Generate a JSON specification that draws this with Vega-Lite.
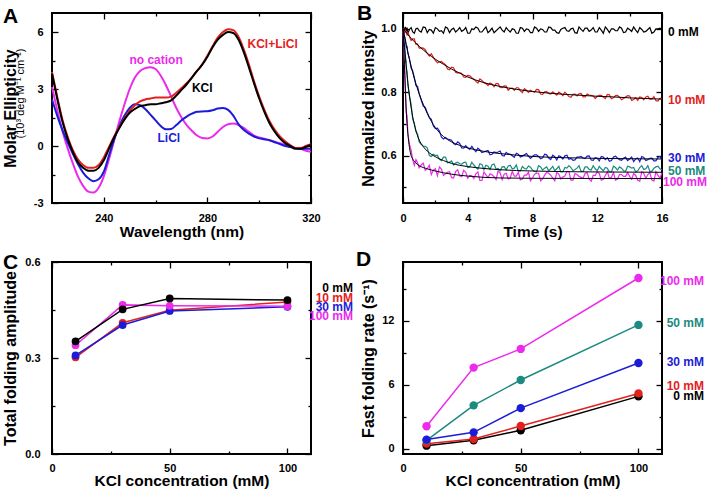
{
"$schema": "https://vega.github.io/schema/vega-lite/v6.json",
"padding": {"left": 0, "top": 2, "right": 0, "bottom": 0},
"background": "white",
"columns": 2,
"spacing": {"row": 59, "column": 92},
"bounds": "flush",
"resolve": {"scale": {"color": "independent"}},
"config": {
  "font": "Liberation Sans",
  "view": {"stroke": "black", "strokeWidth": 2},
  "axis": {"domain": false, "grid": false, "tickColor": "black", "tickWidth": 1.3, "tickSize": 6, "labelFont": "Liberation Sans", "labelFontSize": 11, "labelFontWeight": "bold", "labelColor": "black", "labelFlush": false, "labelOverlap": false, "labelPadding": 9, "titleFont": "Liberation Sans", "titleFontSize": 16, "titleFontWeight": "bold", "titleColor": "black"},
  "axisX": {"titleFontSize": 15.5, "titleY": 21, "titleBaseline": "top"},
  "axisY": {"titleBaseline": "alphabetic"},
  "title": {"font": "Liberation Sans", "fontSize": 21, "fontWeight": "bold", "anchor": "start", "frame": "group", "offset": 0, "baseline": "alphabetic", "color": "black"},
  "text": {"font": "Liberation Sans", "fontWeight": "bold", "fontSize": 12}
},
"datasets": {
  "cd": [
    {"w":220,"m":3.1,"b":2.45,"r":3.9,"k":3.8},
    {"w":222,"m":1.9,"b":1.6,"r":2.6,"k":2.5},
    {"w":224,"m":0.8,"b":0.85,"r":1.4,"k":1.3},
    {"w":226,"m":-0.1,"b":0.2,"r":0.5,"k":0.4},
    {"w":228,"m":-0.9,"b":-0.4,"r":-0.2,"k":-0.3},
    {"w":230,"m":-1.6,"b":-0.95,"r":-0.7,"k":-0.85},
    {"w":232,"m":-2.1,"b":-1.4,"r":-1.0,"k":-1.15},
    {"w":234,"m":-2.4,"b":-1.7,"r":-1.15,"k":-1.3},
    {"w":236,"m":-2.45,"b":-1.85,"r":-1.15,"k":-1.3},
    {"w":238,"m":-2.2,"b":-1.75,"r":-1.0,"k":-1.15},
    {"w":240,"m":-1.6,"b":-1.35,"r":-0.6,"k":-0.75},
    {"w":242,"m":-0.7,"b":-0.5,"r":-0.05,"k":-0.15},
    {"w":244,"m":0.3,"b":0.35,"r":0.5,"k":0.45},
    {"w":246,"m":1.3,"b":1.05,"r":1.0,"k":0.95},
    {"w":248,"m":2.2,"b":1.6,"r":1.45,"k":1.4},
    {"w":250,"m":3.0,"b":2.0,"r":1.85,"k":1.75},
    {"w":252,"m":3.6,"b":2.2,"r":2.15,"k":1.95},
    {"w":254,"m":3.95,"b":2.15,"r":2.35,"k":2.1},
    {"w":256,"m":4.1,"b":1.95,"r":2.45,"k":2.15},
    {"w":258,"m":4.15,"b":1.65,"r":2.5,"k":2.2},
    {"w":260,"m":4.05,"b":1.35,"r":2.55,"k":2.2},
    {"w":262,"m":3.7,"b":1.05,"r":2.55,"k":2.25},
    {"w":264,"m":3.2,"b":0.88,"r":2.55,"k":2.3},
    {"w":266,"m":2.6,"b":0.9,"r":2.6,"k":2.4},
    {"w":268,"m":2.0,"b":1.1,"r":2.8,"k":2.65},
    {"w":270,"m":1.5,"b":1.35,"r":3.05,"k":2.95},
    {"w":272,"m":1.1,"b":1.55,"r":3.3,"k":3.25},
    {"w":274,"m":0.8,"b":1.7,"r":3.6,"k":3.6},
    {"w":276,"m":0.55,"b":1.8,"r":3.95,"k":3.95},
    {"w":278,"m":0.42,"b":1.82,"r":4.3,"k":4.28},
    {"w":280,"m":0.4,"b":1.83,"r":4.75,"k":4.7},
    {"w":282,"m":0.5,"b":1.88,"r":5.25,"k":5.2},
    {"w":284,"m":0.75,"b":1.97,"r":5.7,"k":5.6},
    {"w":286,"m":1.0,"b":2.0,"r":6.0,"k":5.85},
    {"w":288,"m":1.15,"b":1.9,"r":6.15,"k":6.0},
    {"w":290,"m":1.18,"b":1.6,"r":6.1,"k":5.95},
    {"w":292,"m":1.1,"b":1.15,"r":5.75,"k":5.6},
    {"w":294,"m":0.95,"b":0.85,"r":5.1,"k":4.95},
    {"w":296,"m":0.75,"b":0.65,"r":4.3,"k":4.15},
    {"w":298,"m":0.55,"b":0.5,"r":3.4,"k":3.3},
    {"w":300,"m":0.45,"b":0.4,"r":2.6,"k":2.5},
    {"w":302,"m":0.38,"b":0.35,"r":1.9,"k":1.8},
    {"w":304,"m":0.3,"b":0.3,"r":1.3,"k":1.2},
    {"w":306,"m":0.22,"b":0.2,"r":0.85,"k":0.75},
    {"w":308,"m":0.15,"b":0.1,"r":0.5,"k":0.4},
    {"w":310,"m":0.05,"b":0.0,"r":0.25,"k":0.15},
    {"w":312,"m":-0.05,"b":-0.05,"r":0.05,"k":0.0},
    {"w":314,"m":-0.1,"b":-0.1,"r":-0.1,"k":-0.15},
    {"w":316,"m":-0.15,"b":-0.15,"r":-0.1,"k":-0.15},
    {"w":318,"m":-0.25,"b":-0.15,"r":0.0,"k":-0.05},
    {"w":320,"m":-0.3,"b":-0.15,"r":0.1,"k":0.05}
  ],
  "cdlab": [
    {"w":260.2,"v":4.54,"s":"m","txt":"no cation"},
    {"w":278,"v":3.06,"s":"k","txt":"KCl"},
    {"w":265.1,"v":0.44,"s":"b","txt":"LiCl"},
    {"w":305.2,"v":5.36,"s":"r","txt":"KCl+LiCl"}
  ],
  "kin": [
    {"t":0,"z":1.0,"r":1.0,"b":1.0,"g":1.0,"m":1.0},
    {"t":0.05,"z":1.002,"r":0.994,"b":0.983,"g":0.96,"m":0.925},
    {"t":0.1,"z":0.988,"r":0.987,"b":0.975,"g":0.942,"m":0.876},
    {"t":0.15,"z":1.006,"r":0.995,"b":0.965,"g":0.916,"m":0.809},
    {"t":0.2,"z":0.992,"r":0.99,"b":0.942,"g":0.878,"m":0.737},
    {"t":0.25,"z":1.004,"r":0.981,"b":0.944,"g":0.863,"m":0.725},
    {"t":0.3,"z":0.986,"r":0.988,"b":0.923,"g":0.824,"m":0.668},
    {"t":0.4,"z":0.998,"r":0.976,"b":0.905,"g":0.788,"m":0.635},
    {"t":0.5,"z":1.004,"r":0.963,"b":0.876,"g":0.762,"m":0.617},
    {"t":0.6,"z":0.99,"r":0.968,"b":0.867,"g":0.714,"m":0.586},
    {"t":0.7,"z":0.986,"r":0.968,"b":0.846,"g":0.702,"m":0.569},
    {"t":0.8,"z":1.0,"r":0.951,"b":0.821,"g":0.676,"m":0.587},
    {"t":0.9,"z":1.002,"r":0.952,"b":0.818,"g":0.668,"m":0.577},
    {"t":1.0,"z":0.994,"r":0.939,"b":0.795,"g":0.643,"m":0.561},
    {"t":1.25,"z":1.006,"r":0.939,"b":0.756,"g":0.63,"m":0.576},
    {"t":1.5,"z":0.988,"r":0.922,"b":0.735,"g":0.624,"m":0.559},
    {"t":1.75,"z":0.996,"r":0.921,"b":0.714,"g":0.597,"m":0.54},
    {"t":2.0,"z":1.004,"r":0.9,"b":0.685,"g":0.6,"m":0.558},
    {"t":2.25,"z":0.992,"r":0.896,"b":0.677,"g":0.588,"m":0.564},
    {"t":2.5,"z":0.986,"r":0.891,"b":0.652,"g":0.595,"m":0.537},
    {"t":2.75,"z":1.002,"r":0.873,"b":0.652,"g":0.577,"m":0.547},
    {"t":3.0,"z":0.998,"r":0.879,"b":0.648,"g":0.583,"m":0.53},
    {"t":3.25,"z":0.99,"r":0.863,"b":0.634,"g":0.576,"m":0.549},
    {"t":3.5,"z":1.004,"r":0.862,"b":0.638,"g":0.574,"m":0.536},
    {"t":3.75,"z":0.996,"r":0.848,"b":0.623,"g":0.578,"m":0.553},
    {"t":4.0,"z":0.986,"r":0.853,"b":0.624,"g":0.562,"m":0.528},
    {"t":4.25,"z":1.0,"r":0.846,"b":0.629,"g":0.579,"m":0.536},
    {"t":4.5,"z":1.006,"r":0.834,"b":0.612,"g":0.563,"m":0.542},
    {"t":4.75,"z":0.99,"r":0.842,"b":0.618,"g":0.574,"m":0.521},
    {"t":5.0,"z":0.998,"r":0.83,"b":0.611,"g":0.555,"m":0.548},
    {"t":5.25,"z":0.988,"r":0.821,"b":0.616,"g":0.566,"m":0.53},
    {"t":5.5,"z":1.002,"r":0.826,"b":0.604,"g":0.571,"m":0.539},
    {"t":5.75,"z":0.994,"r":0.827,"b":0.609,"g":0.557,"m":0.524},
    {"t":6.0,"z":1.006,"r":0.815,"b":0.614,"g":0.552,"m":0.545},
    {"t":6.25,"z":0.99,"r":0.82,"b":0.598,"g":0.565,"m":0.541},
    {"t":6.5,"z":0.996,"r":0.806,"b":0.605,"g":0.567,"m":0.526},
    {"t":6.75,"z":1.0,"r":0.813,"b":0.599,"g":0.558,"m":0.55},
    {"t":7.0,"z":0.986,"r":0.814,"b":0.607,"g":0.57,"m":0.535},
    {"t":7.25,"z":1.004,"r":0.804,"b":0.595,"g":0.551,"m":0.523},
    {"t":7.5,"z":0.992,"r":0.811,"b":0.602,"g":0.559,"m":0.538},
    {"t":7.75,"z":0.998,"r":0.799,"b":0.598,"g":0.567,"m":0.547},
    {"t":8.0,"z":0.988,"r":0.802,"b":0.597,"g":0.554,"m":0.529},
    {"t":8.25,"z":1.002,"r":0.809,"b":0.602,"g":0.548,"m":0.544},
    {"t":8.5,"z":1.0,"r":0.794,"b":0.59,"g":0.564,"m":0.52},
    {"t":8.75,"z":0.99,"r":0.801,"b":0.604,"g":0.56,"m":0.538},
    {"t":9.0,"z":1.006,"r":0.796,"b":0.592,"g":0.552,"m":0.544},
    {"t":9.25,"z":0.996,"r":0.801,"b":0.601,"g":0.566,"m":0.529},
    {"t":9.5,"z":0.988,"r":0.791,"b":0.586,"g":0.558,"m":0.547},
    {"t":9.75,"z":0.998,"r":0.796,"b":0.596,"g":0.548,"m":0.526},
    {"t":10.0,"z":1.004,"r":0.8,"b":0.599,"g":0.562,"m":0.535},
    {"t":10.25,"z":0.992,"r":0.786,"b":0.588,"g":0.568,"m":0.549},
    {"t":10.5,"z":1.002,"r":0.793,"b":0.585,"g":0.552,"m":0.522},
    {"t":10.75,"z":0.986,"r":0.788,"b":0.595,"g":0.56,"m":0.54},
    {"t":11.0,"z":0.998,"r":0.796,"b":0.597,"g":0.55,"m":0.531},
    {"t":11.25,"z":1.002,"r":0.785,"b":0.59,"g":0.564,"m":0.543},
    {"t":11.5,"z":0.992,"r":0.791,"b":0.599,"g":0.556,"m":0.525},
    {"t":11.75,"z":1.004,"r":0.788,"b":0.585,"g":0.568,"m":0.537},
    {"t":12.0,"z":0.99,"r":0.787,"b":0.591,"g":0.552,"m":0.549},
    {"t":12.25,"z":0.996,"r":0.79,"b":0.597,"g":0.558,"m":0.522},
    {"t":12.5,"z":1.006,"r":0.78,"b":0.587,"g":0.562,"m":0.537},
    {"t":12.75,"z":0.988,"r":0.792,"b":0.582,"g":0.548,"m":0.528},
    {"t":13.0,"z":1.0,"r":0.782,"b":0.595,"g":0.566,"m":0.546},
    {"t":13.25,"z":0.994,"r":0.79,"b":0.592,"g":0.554,"m":0.525},
    {"t":13.5,"z":1.002,"r":0.776,"b":0.585,"g":0.56,"m":0.54},
    {"t":13.75,"z":0.99,"r":0.785,"b":0.595,"g":0.55,"m":0.534},
    {"t":14.0,"z":0.998,"r":0.788,"b":0.589,"g":0.564,"m":0.534},
    {"t":14.25,"z":1.006,"r":0.777,"b":0.581,"g":0.562,"m":0.543},
    {"t":14.5,"z":0.988,"r":0.774,"b":0.592,"g":0.552,"m":0.522},
    {"t":14.75,"z":0.998,"r":0.783,"b":0.597,"g":0.568,"m":0.549},
    {"t":15.0,"z":0.992,"r":0.785,"b":0.584,"g":0.558,"m":0.528},
    {"t":15.25,"z":1.004,"r":0.778,"b":0.591,"g":0.55,"m":0.546},
    {"t":15.5,"z":0.99,"r":0.786,"b":0.583,"g":0.56,"m":0.519},
    {"t":15.75,"z":1.0,"r":0.772,"b":0.594,"g":0.566,"m":0.537},
    {"t":16.0,"z":0.996,"r":0.778,"b":0.587,"g":0.554,"m":0.546},
    {"t":1.125,"z":0.99,"r":0.94,"b":0.775,"g":0.635,"m":0.57},
    {"t":1.375,"z":1.004,"r":0.934,"b":0.752,"g":0.629,"m":0.553},
    {"t":1.625,"z":0.998,"r":0.914,"b":0.72,"g":0.6,"m":0.569},
    {"t":1.875,"z":0.986,"r":0.91,"b":0.693,"g":0.604,"m":0.554},
    {"t":2.125,"z":1.0,"r":0.893,"b":0.686,"g":0.601,"m":0.536},
    {"t":2.375,"z":0.994,"r":0.897,"b":0.658,"g":0.584,"m":0.557},
    {"t":2.625,"z":1.006,"r":0.887,"b":0.657,"g":0.595,"m":0.542},
    {"t":2.875,"z":0.988,"r":0.871,"b":0.65,"g":0.579,"m":0.549},
    {"t":3.125,"z":1.002,"r":0.877,"b":0.638,"g":0.57,"m":0.529},
    {"t":3.375,"z":0.996,"r":0.86,"b":0.643,"g":0.579,"m":0.555},
    {"t":3.625,"z":0.992,"r":0.859,"b":0.624,"g":0.573,"m":0.533},
    {"t":3.875,"z":1.004,"r":0.847,"b":0.631,"g":0.579,"m":0.547},
    {"t":4.125,"z":0.986,"r":0.852,"b":0.619,"g":0.564,"m":0.537},
    {"t":4.375,"z":0.998,"r":0.841,"b":0.62,"g":0.57,"m":0.527},
    {"t":4.625,"z":1.002,"r":0.829,"b":0.623,"g":0.557,"m":0.548},
    {"t":4.875,"z":0.99,"r":0.837,"b":0.609,"g":0.572,"m":0.521},
    {"t":5.125,"z":1.006,"r":0.827,"b":0.614,"g":0.569,"m":0.539},
    {"t":5.375,"z":0.994,"r":0.829,"b":0.602,"g":0.556,"m":0.542},
    {"t":5.625,"z":0.988,"r":0.817,"b":0.611,"g":0.573,"m":0.533},
    {"t":5.875,"z":1.0,"r":0.827,"b":0.611,"g":0.559,"m":0.551},
    {"t":6.125,"z":0.996,"r":0.814,"b":0.6,"g":0.564,"m":0.524},
    {"t":6.375,"z":1.004,"r":0.819,"b":0.61,"g":0.555,"m":0.544},
    {"t":6.625,"z":0.99,"r":0.812,"b":0.604,"g":0.569,"m":0.529},
    {"t":6.875,"z":0.998,"r":0.806,"b":0.594,"g":0.56,"m":0.535},
    {"t":7.125,"z":0.986,"r":0.814,"b":0.604,"g":0.55,"m":0.547},
    {"t":7.375,"z":1.002,"r":0.799,"b":0.598,"g":0.565,"m":0.526},
    {"t":7.625,"z":1.0,"r":0.806,"b":0.606,"g":0.557,"m":0.538},
    {"t":7.875,"z":0.988,"r":0.806,"b":0.591,"g":0.563,"m":0.52},
    {"t":8.125,"z":1.006,"r":0.8,"b":0.602,"g":0.55,"m":0.541},
    {"t":8.375,"z":0.992,"r":0.808,"b":0.597,"g":0.568,"m":0.544},
    {"t":8.625,"z":0.998,"r":0.793,"b":0.593,"g":0.554,"m":0.526},
    {"t":8.875,"z":0.99,"r":0.802,"b":0.602,"g":0.564,"m":0.547},
    {"t":9.125,"z":1.004,"r":0.794,"b":0.587,"g":0.558,"m":0.538},
    {"t":9.375,"z":0.996,"r":0.796,"b":0.596,"g":0.552,"m":0.52},
    {"t":9.625,"z":0.986,"r":0.8,"b":0.599,"g":0.566,"m":0.541},
    {"t":9.875,"z":1.002,"r":0.789,"b":0.589,"g":0.548,"m":0.532},
    {"t":10.125,"z":0.994,"r":0.794,"b":0.601,"g":0.56,"m":0.55},
    {"t":10.375,"z":1.0,"r":0.784,"b":0.591,"g":0.562,"m":0.522},
    {"t":10.625,"z":0.988,"r":0.794,"b":0.586,"g":0.556,"m":0.543},
    {"t":10.875,"z":1.006,"r":0.795,"b":0.595,"g":0.568,"m":0.534},
    {"t":11.125,"z":0.992,"r":0.785,"b":0.592,"g":0.55,"m":0.528},
    {"t":11.375,"z":1.002,"r":0.794,"b":0.598,"g":0.564,"m":0.546},
    {"t":11.625,"z":0.996,"r":0.79,"b":0.586,"g":0.554,"m":0.519},
    {"t":11.875,"z":0.99,"r":0.78,"b":0.593,"g":0.558,"m":0.537},
    {"t":12.125,"z":1.004,"r":0.79,"b":0.583,"g":0.566,"m":0.543},
    {"t":12.375,"z":0.986,"r":0.785,"b":0.595,"g":0.552,"m":0.525},
    {"t":12.625,"z":0.998,"r":0.793,"b":0.593,"g":0.56,"m":0.549},
    {"t":12.875,"z":1.0,"r":0.779,"b":0.584,"g":0.548,"m":0.531},
    {"t":13.125,"z":0.994,"r":0.789,"b":0.598,"g":0.562,"m":0.522},
    {"t":13.375,"z":1.006,"r":0.784,"b":0.587,"g":0.564,"m":0.54},
    {"t":13.625,"z":0.988,"r":0.78,"b":0.591,"g":0.552,"m":0.534},
    {"t":13.875,"z":1.002,"r":0.789,"b":0.584,"g":0.566,"m":0.546},
    {"t":14.125,"z":0.992,"r":0.774,"b":0.595,"g":0.56,"m":0.525},
    {"t":14.375,"z":0.996,"r":0.783,"b":0.589,"g":0.548,"m":0.537},
    {"t":14.625,"z":1.004,"r":0.785,"b":0.581,"g":0.562,"m":0.519},
    {"t":14.875,"z":0.99,"r":0.776,"b":0.594,"g":0.556,"m":0.543},
    {"t":15.125,"z":0.998,"r":0.787,"b":0.587,"g":0.568,"m":0.54},
    {"t":15.375,"z":0.986,"r":0.778,"b":0.592,"g":0.55,"m":0.522},
    {"t":15.625,"z":1.0,"r":0.773,"b":0.583,"g":0.564,"m":0.549},
    {"t":15.875,"z":1.002,"r":0.781,"b":0.597,"g":0.558,"m":0.528}
  ],
  "fit": [
    {"t":0,"v":1.0,"s":"r"},{"t":0.25,"v":0.985,"s":"r"},{"t":0.5,"v":0.97,"s":"r"},{"t":1,"v":0.945,"s":"r"},{"t":1.5,"v":0.923,"s":"r"},{"t":2,"v":0.904,"s":"r"},{"t":2.5,"v":0.888,"s":"r"},{"t":3,"v":0.873,"s":"r"},{"t":3.5,"v":0.86,"s":"r"},{"t":4,"v":0.848,"s":"r"},{"t":5,"v":0.83,"s":"r"},{"t":6,"v":0.818,"s":"r"},{"t":7,"v":0.809,"s":"r"},{"t":8,"v":0.802,"s":"r"},{"t":9,"v":0.797,"s":"r"},{"t":10,"v":0.793,"s":"r"},{"t":11,"v":0.79,"s":"r"},{"t":12,"v":0.787,"s":"r"},{"t":13,"v":0.785,"s":"r"},{"t":14,"v":0.782,"s":"r"},{"t":15,"v":0.78,"s":"r"},{"t":16,"v":0.778,"s":"r"},
    {"t":0,"v":1.0,"s":"b"},{"t":0.1,"v":0.975,"s":"b"},{"t":0.2,"v":0.95,"s":"b"},{"t":0.3,"v":0.926,"s":"b"},{"t":0.4,"v":0.903,"s":"b"},{"t":0.5,"v":0.882,"s":"b"},{"t":0.6,"v":0.862,"s":"b"},{"t":0.8,"v":0.826,"s":"b"},{"t":1.0,"v":0.795,"s":"b"},{"t":1.25,"v":0.762,"s":"b"},{"t":1.5,"v":0.733,"s":"b"},{"t":1.75,"v":0.708,"s":"b"},{"t":2,"v":0.688,"s":"b"},{"t":2.5,"v":0.66,"s":"b"},{"t":3,"v":0.643,"s":"b"},{"t":3.5,"v":0.632,"s":"b"},{"t":4,"v":0.624,"s":"b"},{"t":5,"v":0.613,"s":"b"},{"t":6,"v":0.606,"s":"b"},{"t":7,"v":0.601,"s":"b"},{"t":8,"v":0.597,"s":"b"},{"t":10,"v":0.593,"s":"b"},{"t":12,"v":0.591,"s":"b"},{"t":16,"v":0.589,"s":"b"},
    {"t":0,"v":1.0,"s":"g"},{"t":0.1,"v":0.94,"s":"g"},{"t":0.2,"v":0.882,"s":"g"},{"t":0.3,"v":0.83,"s":"g"},{"t":0.4,"v":0.788,"s":"g"},{"t":0.5,"v":0.752,"s":"g"},{"t":0.6,"v":0.722,"s":"g"},{"t":0.8,"v":0.678,"s":"g"},{"t":1.0,"v":0.649,"s":"g"},{"t":1.25,"v":0.628,"s":"g"},{"t":1.5,"v":0.614,"s":"g"},{"t":2,"v":0.596,"s":"g"},{"t":2.5,"v":0.584,"s":"g"},{"t":3,"v":0.575,"s":"g"},{"t":3.5,"v":0.569,"s":"g"},{"t":4,"v":0.565,"s":"g"},{"t":5,"v":0.559,"s":"g"},{"t":6,"v":0.555,"s":"g"},{"t":8,"v":0.551,"s":"g"},{"t":10,"v":0.549,"s":"g"},{"t":12,"v":0.548,"s":"g"},{"t":16,"v":0.547,"s":"g"},
    {"t":0,"v":1.0,"s":"m"},{"t":0.05,"v":0.94,"s":"m"},{"t":0.1,"v":0.87,"s":"m"},{"t":0.15,"v":0.8,"s":"m"},{"t":0.2,"v":0.74,"s":"m"},{"t":0.25,"v":0.7,"s":"m"},{"t":0.3,"v":0.67,"s":"m"},{"t":0.4,"v":0.625,"s":"m"},{"t":0.5,"v":0.6,"s":"m"},{"t":0.6,"v":0.589,"s":"m"},{"t":0.8,"v":0.576,"s":"m"},{"t":1.0,"v":0.568,"s":"m"},{"t":1.5,"v":0.558,"s":"m"},{"t":2,"v":0.551,"s":"m"},{"t":3,"v":0.541,"s":"m"},{"t":4,"v":0.535,"s":"m"},{"t":5,"v":0.531,"s":"m"},{"t":6,"v":0.529,"s":"m"},{"t":8,"v":0.528,"s":"m"},{"t":16,"v":0.527,"s":"m"}
  ],
  "kinlab": [
    {"v":0.989,"s":"z","txt":"0 mM"},
    {"v":0.776,"s":"r","txt":"10 mM"},
    {"v":0.591,"s":"b","txt":"30 mM"},
    {"v":0.552,"s":"g","txt":"50 mM"},
    {"v":0.517,"s":"m","txt":"100 mM"}
  ],
  "amp": [
    {"k":10,"v":0.302,"s":"10 mM"},{"k":30,"v":0.41,"s":"10 mM"},{"k":50,"v":0.449,"s":"10 mM"},{"k":100,"v":0.475,"s":"10 mM"},
    {"k":10,"v":0.308,"s":"30 mM"},{"k":30,"v":0.403,"s":"30 mM"},{"k":50,"v":0.447,"s":"30 mM"},{"k":100,"v":0.46,"s":"30 mM"},
    {"k":10,"v":0.34,"s":"100 mM"},{"k":30,"v":0.466,"s":"100 mM"},{"k":50,"v":0.463,"s":"100 mM"},{"k":100,"v":0.462,"s":"100 mM"},
    {"k":10,"v":0.352,"s":"0 mM"},{"k":30,"v":0.452,"s":"0 mM"},{"k":50,"v":0.486,"s":"0 mM"},{"k":100,"v":0.481,"s":"0 mM"}
  ],
  "amplab": [
    {"v":0.519,"s":"0 mM"},
    {"v":0.486,"s":"10 mM"},
    {"v":0.458,"s":"30 mM"},
    {"v":0.43,"s":"100 mM"}
  ],
  "rate": [
    {"k":10,"v":0.28,"s":"0 mM"},{"k":30,"v":0.78,"s":"0 mM"},{"k":50,"v":1.72,"s":"0 mM"},{"k":100,"v":4.9,"s":"0 mM"},
    {"k":10,"v":0.47,"s":"10 mM"},{"k":30,"v":0.91,"s":"10 mM"},{"k":50,"v":2.13,"s":"10 mM"},{"k":100,"v":5.18,"s":"10 mM"},
    {"k":10,"v":0.78,"s":"50 mM"},{"k":30,"v":4.06,"s":"50 mM"},{"k":50,"v":6.44,"s":"50 mM"},{"k":100,"v":11.6,"s":"50 mM"},
    {"k":10,"v":0.85,"s":"30 mM"},{"k":30,"v":1.53,"s":"30 mM"},{"k":50,"v":3.8,"s":"30 mM"},{"k":100,"v":8.03,"s":"30 mM"},
    {"k":10,"v":2.1,"s":"100 mM"},{"k":30,"v":7.6,"s":"100 mM"},{"k":50,"v":9.35,"s":"100 mM"},{"k":100,"v":16.0,"s":"100 mM"}
  ],
  "ratelab": [
    {"v":15.7,"s":"100 mM"},
    {"v":11.8,"s":"50 mM"},
    {"v":8.1,"s":"30 mM"},
    {"v":5.85,"s":"10 mM"},
    {"v":4.9,"s":"0 mM"}
  ]
},
"concat": [
  {
    "width": 259, "height": 190,
    "title": {"text": "A", "dx": -49, "dy": 19},
    "layer": [
      {
        "data": {"name": "cd"},
        "transform": [{"fold": ["m", "b", "r", "k"], "as": ["s", "v"]}],
        "mark": {"type": "line", "strokeWidth": 2, "interpolate": "monotone"},
        "encoding": {
          "x": {"field": "w", "type": "quantitative", "scale": {"domain": [220, 320], "nice": false, "zero": false},
                "axis": {"values": [240, 280, 320], "ticks": false, "tickSize": 0, "title": "Wavelength (nm)"}},
          "y": {"field": "v", "type": "quantitative", "scale": {"domain": [-3, 7], "nice": false, "zero": false},
                "axis": {"values": [-3, 0, 3, 6], "ticks": false, "tickSize": 0, "labelExpr": "'' + datum.value", "title": "Molar Ellipticity", "titleX": -37}},
          "color": {"field": "s", "type": "nominal", "scale": {"domain": ["m", "b", "r", "k"], "range": ["#ec2aec", "#1c1cd8", "#e4201c", "#000000"]}, "legend": null}
        }
      },
      {
        "data": {"name": "cdlab"},
        "mark": {"type": "text"},
        "encoding": {
          "x": {"field": "w", "type": "quantitative", "scale": {"domain": [220, 320], "nice": false, "zero": false},
                "axis": {"orient": "top", "values": [240, 280, 320], "labels": false, "title": null, "offset": -6, "tickSize": 6}},
          "y": {"field": "v", "type": "quantitative", "scale": {"domain": [-3, 7], "nice": false, "zero": false},
                "axis": {"orient": "right", "values": [-3, 0, 3, 6], "labels": false, "title": null, "offset": -6, "tickSize": 6}},
          "text": {"field": "txt"},
          "color": {"field": "s", "type": "nominal", "scale": {"domain": ["m", "b", "r", "k"], "range": ["#ec2aec", "#1c1cd8", "#e4201c", "#000000"]}, "legend": null}
        }
      },
      {
        "data": {"name": "cdlab"},
        "mark": {"type": "point", "opacity": 0},
        "encoding": {
          "x": {"field": "w", "type": "quantitative", "scale": {"domain": [220, 320], "nice": false, "zero": false},
                "axis": {"orient": "bottom", "values": [260, 300], "labels": false, "title": null, "offset": -3, "tickSize": 3}},
          "y": {"field": "v", "type": "quantitative", "scale": {"domain": [-3, 7], "nice": false, "zero": false},
                "axis": {"orient": "left", "values": [-1.5, 1.5, 4.5], "labels": false, "offset": -3, "tickSize": 3, "title": "(10³ deg M⁻¹ cm⁻¹)", "titleFontSize": 11, "titleFontWeight": "normal", "titleX": -32, "titleY": 80}}
        }
      },
      {
        "data": {"name": "cdlab"},
        "mark": {"type": "point", "opacity": 0},
        "encoding": {
          "x": {"field": "w", "type": "quantitative", "scale": {"domain": [220, 320], "nice": false, "zero": false},
                "axis": {"orient": "top", "values": [260, 300], "labels": false, "title": null, "offset": -3, "tickSize": 3}},
          "y": {"field": "v", "type": "quantitative", "scale": {"domain": [-3, 7], "nice": false, "zero": false},
                "axis": {"orient": "right", "values": [-1.5, 1.5, 4.5], "labels": false, "title": null, "offset": -3, "tickSize": 3}}
        }
      },
      {
        "data": {"name": "cdlab"},
        "mark": {"type": "point", "opacity": 0},
        "encoding": {
          "x": {"field": "w", "type": "quantitative", "scale": {"domain": [220, 320], "nice": false, "zero": false},
                "axis": {"orient": "bottom", "values": [240, 280, 320], "labels": false, "title": null, "offset": -6, "tickSize": 6}},
          "y": {"field": "v", "type": "quantitative", "scale": {"domain": [-3, 7], "nice": false, "zero": false},
                "axis": {"orient": "left", "values": [-3, 0, 3, 6], "labels": false, "title": null, "offset": -6, "tickSize": 6}}
        }
      }
    ],
    "resolve": {"axis": {"x": "independent", "y": "independent"}}
  },
  {
    "width": 259, "height": 190,
    "title": {"text": "B", "dx": -46, "dy": 16},
    "layer": [
      {
        "data": {"name": "kin"},
        "transform": [{"fold": ["z", "r", "b", "g", "m"], "as": ["s", "v"]}],
        "mark": {"type": "line", "strokeWidth": 1.2},
        "encoding": {
          "x": {"field": "t", "type": "quantitative", "scale": {"domain": [0, 16], "nice": false, "zero": false},
                "axis": {"values": [0, 4, 8, 12, 16], "ticks": false, "tickSize": 0, "title": "Time (s)"}},
          "y": {"field": "v", "type": "quantitative", "scale": {"domain": [0.45, 1.05], "nice": false, "zero": false},
                "axis": {"values": [0.6, 0.8, 1.0], "ticks": false, "tickSize": 0, "format": ".1f", "labelPadding": 7, "title": "Normalized intensity", "titleX": -29.5}},
          "color": {"field": "s", "type": "nominal", "scale": {"domain": ["z", "r", "b", "g", "m"], "range": ["#000000", "#e4201c", "#1c1cd8", "#1b8a80", "#ec2aec"]}, "legend": null}
        }
      },
      {
        "data": {"name": "fit"},
        "mark": {"type": "line", "strokeWidth": 1, "color": "black", "interpolate": "monotone"},
        "encoding": {
          "x": {"field": "t", "type": "quantitative", "scale": {"domain": [0, 16], "nice": false, "zero": false}, "axis": null},
          "y": {"field": "v", "type": "quantitative", "scale": {"domain": [0.45, 1.05], "nice": false, "zero": false}, "axis": null},
          "detail": {"field": "s"}
        }
      },
      {
        "data": {"name": "kinlab"},
        "transform": [{"filter": "datum.s != 'm'"}],
        "mark": {"type": "text", "align": "left", "dx": 6},
        "encoding": {
          "x": {"datum": 16, "type": "quantitative", "scale": {"domain": [0, 16], "nice": false, "zero": false},
                "axis": {"orient": "top", "values": [0, 4, 8, 12, 16], "labels": false, "title": null, "offset": -6, "tickSize": 6}},
          "y": {"field": "v", "type": "quantitative", "scale": {"domain": [0.45, 1.05], "nice": false, "zero": false},
                "axis": {"orient": "right", "values": [0.6, 0.8, 1.0], "labels": false, "title": null, "offset": -6, "tickSize": 6}},
          "text": {"field": "txt"},
          "color": {"field": "s", "type": "nominal", "scale": {"domain": ["z", "r", "b", "g", "m"], "range": ["#000000", "#e4201c", "#1c1cd8", "#1b8a80", "#ec2aec"]}, "legend": null}
        }
      },
      {
        "data": {"name": "kinlab"},
        "transform": [{"filter": "datum.s == 'm'"}],
        "mark": {"type": "text", "align": "left", "dx": 1},
        "encoding": {
          "x": {"datum": 16, "type": "quantitative", "scale": {"domain": [0, 16], "nice": false, "zero": false}, "axis": null},
          "y": {"field": "v", "type": "quantitative", "scale": {"domain": [0.45, 1.05], "nice": false, "zero": false}, "axis": null},
          "text": {"field": "txt"},
          "color": {"field": "s", "type": "nominal", "scale": {"domain": ["z", "r", "b", "g", "m"], "range": ["#000000", "#e4201c", "#1c1cd8", "#1b8a80", "#ec2aec"]}, "legend": null}
        }
      },
      {
        "data": {"name": "kinlab"},
        "mark": {"type": "point", "opacity": 0},
        "encoding": {
          "x": {"datum": 16, "type": "quantitative", "scale": {"domain": [0, 16], "nice": false, "zero": false},
                "axis": {"orient": "bottom", "values": [2, 6, 10, 14], "labels": false, "title": null, "offset": -3, "tickSize": 3}},
          "y": {"field": "v", "type": "quantitative", "scale": {"domain": [0.45, 1.05], "nice": false, "zero": false},
                "axis": {"orient": "left", "values": [0.5, 0.7, 0.9], "labels": false, "title": null, "offset": -3, "tickSize": 3}}
        }
      },
      {
        "data": {"name": "kinlab"},
        "mark": {"type": "point", "opacity": 0},
        "encoding": {
          "x": {"datum": 16, "type": "quantitative", "scale": {"domain": [0, 16], "nice": false, "zero": false},
                "axis": {"orient": "top", "values": [2, 6, 10, 14], "labels": false, "title": null, "offset": -3, "tickSize": 3}},
          "y": {"field": "v", "type": "quantitative", "scale": {"domain": [0.45, 1.05], "nice": false, "zero": false},
                "axis": {"orient": "right", "values": [0.5, 0.7, 0.9], "labels": false, "title": null, "offset": -3, "tickSize": 3}}
        }
      },
      {
        "data": {"name": "kinlab"},
        "mark": {"type": "point", "opacity": 0},
        "encoding": {
          "x": {"datum": 16, "type": "quantitative", "scale": {"domain": [0, 16], "nice": false, "zero": false},
                "axis": {"orient": "bottom", "values": [0, 4, 8, 12, 16], "labels": false, "title": null, "offset": -6, "tickSize": 6}},
          "y": {"field": "v", "type": "quantitative", "scale": {"domain": [0.45, 1.05], "nice": false, "zero": false},
                "axis": {"orient": "left", "values": [0.6, 0.8, 1.0], "labels": false, "title": null, "offset": -6, "tickSize": 6}}
        }
      }
    ],
    "resolve": {"axis": {"x": "independent", "y": "independent"}}
  },
  {
    "width": 259, "height": 192,
    "title": {"text": "C", "dx": -49, "dy": 21},
    "layer": [
      {
        "data": {"name": "amp"},
        "mark": {"type": "line", "strokeWidth": 1.5, "point": {"filled": true, "size": 60, "opacity": 1}},
        "encoding": {
          "x": {"field": "k", "type": "quantitative", "scale": {"domain": [0, 110], "nice": false, "zero": false},
                "axis": {"values": [0, 50, 100], "ticks": false, "tickSize": 0, "title": "KCl concentration (mM)", "labelPadding": 8, "titleY": 19}},
          "y": {"field": "v", "type": "quantitative", "scale": {"domain": [0, 0.6], "nice": false, "zero": false},
                "axis": {"values": [0, 0.3, 0.6], "ticks": false, "tickSize": 0, "format": ".1f", "labelPadding": 12, "title": "Total folding amplitude", "titleX": -37}},
          "color": {"field": "s", "type": "nominal", "scale": {"domain": ["0 mM", "10 mM", "30 mM", "50 mM", "100 mM"], "range": ["#000000", "#e4201c", "#1c1cd8", "#1b8a80", "#ec2aec"]}, "legend": null}
        }
      },
      {
        "data": {"name": "amplab"},
        "mark": {"type": "text", "align": "right", "dx": 42},
        "encoding": {
          "x": {"datum": 110, "type": "quantitative", "scale": {"domain": [0, 110], "nice": false, "zero": false},
                "axis": {"orient": "top", "values": [0, 50, 100], "labels": false, "title": null, "offset": -6, "tickSize": 6}},
          "y": {"field": "v", "type": "quantitative", "scale": {"domain": [0, 0.6], "nice": false, "zero": false},
                "axis": {"orient": "right", "values": [0, 0.3, 0.6], "labels": false, "title": null, "offset": -6, "tickSize": 6}},
          "text": {"field": "s"},
          "color": {"field": "s", "type": "nominal", "scale": {"domain": ["0 mM", "10 mM", "30 mM", "50 mM", "100 mM"], "range": ["#000000", "#e4201c", "#1c1cd8", "#1b8a80", "#ec2aec"]}, "legend": null}
        }
      },
      {
        "data": {"name": "amplab"},
        "mark": {"type": "point", "opacity": 0},
        "encoding": {
          "x": {"datum": 110, "type": "quantitative", "scale": {"domain": [0, 110], "nice": false, "zero": false},
                "axis": {"orient": "bottom", "values": [25, 75], "labels": false, "title": null, "offset": -3, "tickSize": 3}},
          "y": {"field": "v", "type": "quantitative", "scale": {"domain": [0, 0.6], "nice": false, "zero": false},
                "axis": {"orient": "left", "values": [0.15, 0.45], "labels": false, "title": null, "offset": -3, "tickSize": 3}}
        }
      },
      {
        "data": {"name": "amplab"},
        "mark": {"type": "point", "opacity": 0},
        "encoding": {
          "x": {"datum": 110, "type": "quantitative", "scale": {"domain": [0, 110], "nice": false, "zero": false},
                "axis": {"orient": "top", "values": [25, 75], "labels": false, "title": null, "offset": -3, "tickSize": 3}},
          "y": {"field": "v", "type": "quantitative", "scale": {"domain": [0, 0.6], "nice": false, "zero": false},
                "axis": {"orient": "right", "values": [0.15, 0.45], "labels": false, "title": null, "offset": -3, "tickSize": 3}}
        }
      },
      {
        "data": {"name": "amplab"},
        "mark": {"type": "point", "opacity": 0},
        "encoding": {
          "x": {"datum": 110, "type": "quantitative", "scale": {"domain": [0, 110], "nice": false, "zero": false},
                "axis": {"orient": "bottom", "values": [0, 50, 100], "labels": false, "title": null, "offset": -6, "tickSize": 6}},
          "y": {"field": "v", "type": "quantitative", "scale": {"domain": [0, 0.6], "nice": false, "zero": false},
                "axis": {"orient": "left", "values": [0, 0.3, 0.6], "labels": false, "title": null, "offset": -6, "tickSize": 6}}
        }
      }
    ],
    "resolve": {"axis": {"x": "independent", "y": "independent"}}
  },
  {
    "width": 259, "height": 192,
    "title": {"text": "D", "dx": -47, "dy": 12.5},
    "layer": [
      {
        "data": {"name": "rate"},
        "mark": {"type": "line", "strokeWidth": 1.5, "point": {"filled": true, "size": 70, "opacity": 1}},
        "encoding": {
          "x": {"field": "k", "type": "quantitative", "scale": {"domain": [0, 110], "nice": false, "zero": false},
                "axis": {"values": [0, 50, 100], "ticks": false, "tickSize": 0, "title": "KCl concentration (mM)", "labelPadding": 8, "titleY": 19}},
          "y": {"field": "v", "type": "quantitative", "scale": {"domain": [-0.5, 17.5], "nice": false, "zero": false},
                "axis": {"values": [0, 6, 12], "ticks": false, "tickSize": 0, "labelPadding": 9, "title": "Fast folding rate (s⁻¹)", "titleX": -30}},
          "color": {"field": "s", "type": "nominal", "scale": {"domain": ["0 mM", "10 mM", "30 mM", "50 mM", "100 mM"], "range": ["#000000", "#e4201c", "#1c1cd8", "#1b8a80", "#ec2aec"]}, "legend": null}
        }
      },
      {
        "data": {"name": "ratelab"},
        "mark": {"type": "text", "align": "right", "dx": 42},
        "encoding": {
          "x": {"datum": 110, "type": "quantitative", "scale": {"domain": [0, 110], "nice": false, "zero": false},
                "axis": {"orient": "top", "values": [0, 50, 100], "labels": false, "title": null, "offset": -6, "tickSize": 6}},
          "y": {"field": "v", "type": "quantitative", "scale": {"domain": [-0.5, 17.5], "nice": false, "zero": false},
                "axis": {"orient": "right", "values": [0, 6, 12], "labels": false, "title": null, "offset": -6, "tickSize": 6}},
          "text": {"field": "s"},
          "color": {"field": "s", "type": "nominal", "scale": {"domain": ["0 mM", "10 mM", "30 mM", "50 mM", "100 mM"], "range": ["#000000", "#e4201c", "#1c1cd8", "#1b8a80", "#ec2aec"]}, "legend": null}
        }
      },
      {
        "data": {"name": "ratelab"},
        "mark": {"type": "point", "opacity": 0},
        "encoding": {
          "x": {"datum": 110, "type": "quantitative", "scale": {"domain": [0, 110], "nice": false, "zero": false},
                "axis": {"orient": "bottom", "values": [25, 75], "labels": false, "title": null, "offset": -3, "tickSize": 3}},
          "y": {"field": "v", "type": "quantitative", "scale": {"domain": [-0.5, 17.5], "nice": false, "zero": false},
                "axis": {"orient": "left", "values": [3, 9, 15], "labels": false, "title": null, "offset": -3, "tickSize": 3}}
        }
      },
      {
        "data": {"name": "ratelab"},
        "mark": {"type": "point", "opacity": 0},
        "encoding": {
          "x": {"datum": 110, "type": "quantitative", "scale": {"domain": [0, 110], "nice": false, "zero": false},
                "axis": {"orient": "top", "values": [25, 75], "labels": false, "title": null, "offset": -3, "tickSize": 3}},
          "y": {"field": "v", "type": "quantitative", "scale": {"domain": [-0.5, 17.5], "nice": false, "zero": false},
                "axis": {"orient": "right", "values": [3, 9, 15], "labels": false, "title": null, "offset": -3, "tickSize": 3}}
        }
      },
      {
        "data": {"name": "ratelab"},
        "mark": {"type": "point", "opacity": 0},
        "encoding": {
          "x": {"datum": 110, "type": "quantitative", "scale": {"domain": [0, 110], "nice": false, "zero": false},
                "axis": {"orient": "bottom", "values": [0, 50, 100], "labels": false, "title": null, "offset": -6, "tickSize": 6}},
          "y": {"field": "v", "type": "quantitative", "scale": {"domain": [-0.5, 17.5], "nice": false, "zero": false},
                "axis": {"orient": "left", "values": [0, 6, 12], "labels": false, "title": null, "offset": -6, "tickSize": 6}}
        }
      }
    ],
    "resolve": {"axis": {"x": "independent", "y": "independent"}}
  }
]
}
